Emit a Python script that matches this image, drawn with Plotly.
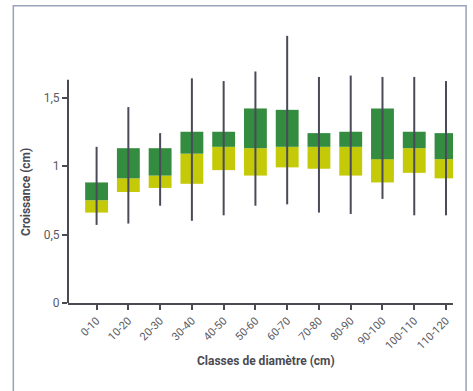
import plotly.graph_objects as go

classes = ["0-10", "10-20", "20-30", "30-40", "40-50", "50-60", "60-70",
           "70-80", "80-90", "90-100", "100-110", "110-120"]
whisker_low = [0.57, 0.58, 0.71, 0.60, 0.64, 0.71, 0.72, 0.66, 0.65, 0.76, 0.64, 0.64]
q1 =          [0.66, 0.81, 0.84, 0.87, 0.97, 0.93, 0.99, 0.98, 0.93, 0.88, 0.95, 0.91]
median =      [0.75, 0.91, 0.93, 1.09, 1.14, 1.13, 1.14, 1.14, 1.14, 1.05, 1.13, 1.05]
q3 =          [0.88, 1.13, 1.13, 1.25, 1.25, 1.42, 1.41, 1.24, 1.25, 1.42, 1.25, 1.24]
whisker_high = [1.14, 1.43, 1.24, 1.64, 1.62, 1.69, 1.95, 1.65, 1.66, 1.65, 1.65, 1.62]
y_ticks = [0, 0.5, 1, 1.5]

DARK = "#338c40"
YELLOW = "#c5ca08"
WHISK = "#4a4a58"
AXIS = "#4a4a52"
FONT = "Roboto, Liberation Sans, sans-serif"

wx, wy = [], []
for c, lo, hi in zip(classes, whisker_low, whisker_high):
    wx += [c, c, None]
    wy += [lo, hi, None]

fig = go.Figure()
fig.add_trace(go.Scatter(x=wx, y=wy, mode="lines",
                         line=dict(color=WHISK, width=2), hoverinfo="skip",
                         showlegend=False))
fig.add_trace(go.Bar(x=classes, y=[m - a for a, m in zip(q1, median)], base=q1,
                     marker=dict(color=YELLOW, line=dict(width=0)),
                     width=0.72, showlegend=False))
fig.add_trace(go.Bar(x=classes, y=[b - m for m, b in zip(median, q3)], base=median,
                     marker=dict(color=DARK, line=dict(width=0)),
                     width=0.72, showlegend=False))

fig.update_layout(
    width=473, height=391,
    margin=dict(l=68, r=20, t=29, b=88, autoexpand=False),
    paper_bgcolor="white", plot_bgcolor="white",
    barmode="overlay", separators=", ",
    font=dict(family=FONT, color="#5a5a62", size=12),
    xaxis=dict(type="category", range=[-0.9, 11.22], showline=True,
               linecolor=AXIS, linewidth=2, ticks="outside", ticklen=5,
               tickcolor=AXIS, tickwidth=2, tickangle=-45, showgrid=False,
               automargin=False,
               tickfont=dict(size=11, color="#5a5a62"), zeroline=False),
    yaxis=dict(range=[0, 2.0], tickvals=y_ticks, showline=False,
               ticks="outside", ticklen=5, tickcolor=AXIS, tickwidth=2,
               showgrid=False, zeroline=False, automargin=False,
               tickfont=dict(size=12, color="#5a5a62")),
    shapes=[
        dict(type="line", xref="paper", yref="y", x0=0, x1=0, y0=-0.035, y1=1.63,
             line=dict(color=AXIS, width=2)),
        dict(type="rect", xref="paper", yref="paper", x0=-0.142, x1=1.034,
             y0=-0.5, y1=1.085, line=dict(color="#9aa2b8", width=1.5),
             layer="below"),
    ],
    annotations=[
        dict(text="<b>Croissance (cm)</b>", xref="paper", yref="paper",
             x=-0.109, y=0.405, xanchor="center", yanchor="middle",
             textangle=-90, showarrow=False,
             font=dict(size=12, color="#4a4a52")),
        dict(text="<b>Classes de diamètre (cm)</b>", xref="paper", yref="paper",
             x=0.514, y=-0.212, xanchor="center", yanchor="middle",
             showarrow=False, font=dict(size=12, color="#4a4a52")),
    ],
)

fig.write_html("out.html", config={"displayModeBar": False},
               post_script="document.body.style.margin='0';"
                           "document.body.style.overflow='hidden';")
